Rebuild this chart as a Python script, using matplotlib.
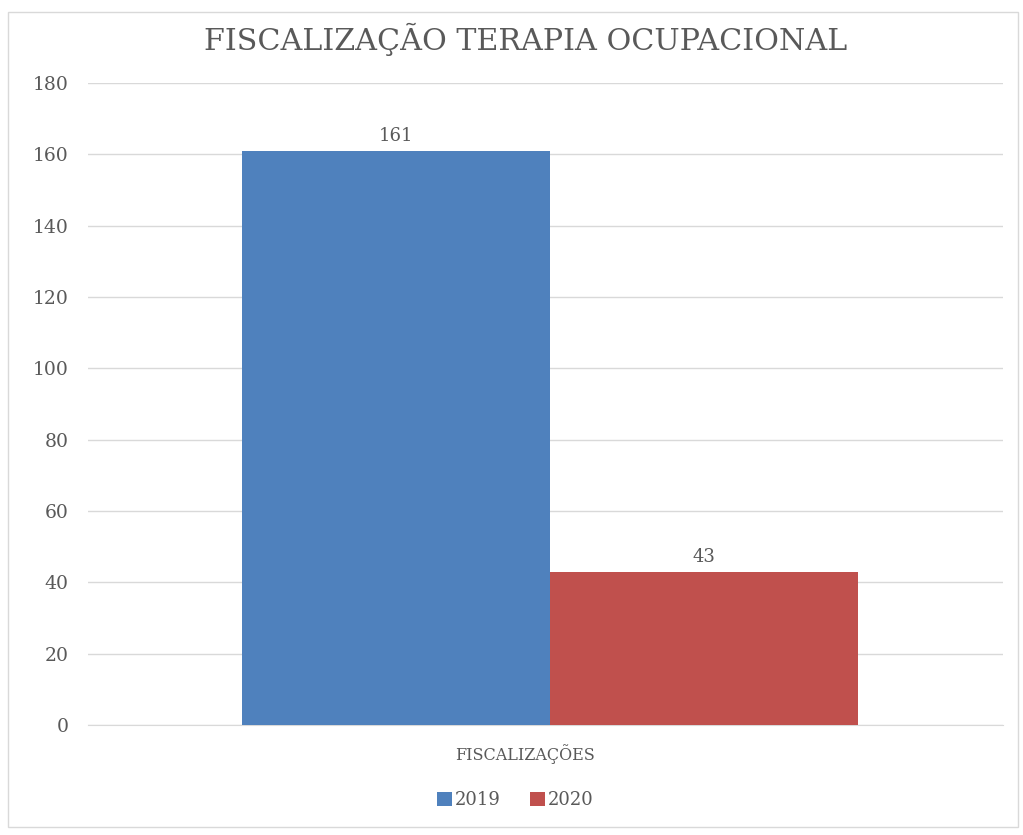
import matplotlib.pyplot as plt
import matplotlib
import matplotlib.transforms as mtransforms
from matplotlib.patches import Rectangle

matplotlib.rcParams['font.family'] = ['DejaVu Serif']

categorias = ['FISCALIZAÇÕES']
anos = ['2019', '2020']
valores = [161, 43]
cores = ['#4F81BD', '#C0504D']
texto_cor = '#595959'

fig = plt.figure(figsize=(10.23, 8.35), dpi=100)
# borda clara em volta do gráfico
fig.patches.append(Rectangle((8 / 1023, 8 / 835), 1010 / 1023, 815 / 835, transform=fig.transFigure,
                             fill=False, edgecolor='#D9D9D9', linewidth=1))

ax = fig.add_axes([88 / 1023, 1 - 725 / 835, 915 / 1023, (725 - 83) / 835])

largura = 0.3366
x0 = 0
for i, (ano, v) in enumerate(zip(anos, valores)):
    pos = x0 + (i - 0.5) * largura
    ax.bar(pos, v, width=largura, color=cores[i], label=ano, zorder=3)
    ax.text(pos, v + 1.5, str(v), ha='center', va='bottom', fontsize=13, color=texto_cor)

ax.set_xlim(-0.505, 0.495)
ax.set_ylim(0, 180)
ax.set_yticks(range(0, 181, 20))
ax.yaxis.grid(True, color='#D9D9D9', linewidth=1, zorder=0)
ax.tick_params(axis='y', length=0, pad=14, labelsize=13.5, labelcolor=texto_cor)
ax.set_xticks([x0])
ax.set_xticklabels(categorias)
ax.tick_params(axis='x', length=0, pad=14, labelsize=11.5, labelcolor=texto_cor)
desloc = mtransforms.ScaledTranslation(-0.25, 0, fig.dpi_scale_trans)
for rot in ax.get_xticklabels():
    rot.set_transform(rot.get_transform() + desloc)
for lado in ['left', 'right', 'top']:
    ax.spines[lado].set_visible(False)
ax.spines['bottom'].set_color('#D9D9D9')

fig.text(526 / 1023, 1 - 39 / 835, 'FISCALIZAÇÃO TERAPIA OCUPACIONAL', ha='center', va='center',
         fontsize=21.7, color=texto_cor)

ax.legend(loc='center', bbox_to_anchor=(515 / 1023, 1 - 800 / 835), bbox_transform=fig.transFigure,
          ncol=2, frameon=False, fontsize=13, handlelength=0.85, handleheight=0.85,
          handletextpad=0.15, columnspacing=1.6, labelcolor=texto_cor)

fig.savefig('out.png', dpi=100)
